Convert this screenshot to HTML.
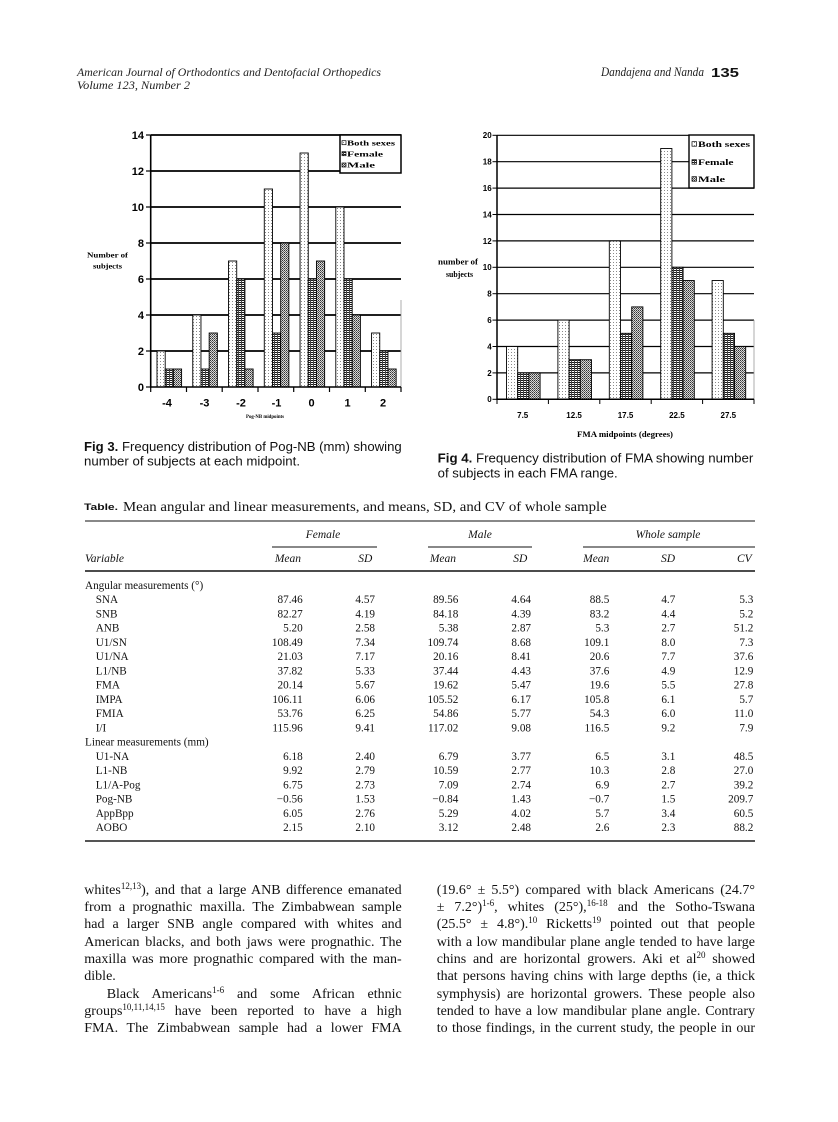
<!DOCTYPE html>
<html><head><meta charset="utf-8">
<style>
html,body{margin:0;padding:0;background:#fff;}
#page{position:relative;width:838px;height:1122px;overflow:hidden;background:#fff;}
svg{position:absolute;left:0;top:0;}
.ln{position:absolute;height:17.33px;line-height:17.33px;font-family:"Liberation Serif",serif;font-size:14px;color:#111;text-align:justify;text-align-last:justify;white-space:normal;overflow:visible;}
.nj{text-align:left;text-align-last:left;}
.s{font-size:9px;vertical-align:5px;line-height:0;}
</style></head>
<body><div id="page">
<svg width="838" height="1122" viewBox="0 0 838 1122" xmlns="http://www.w3.org/2000/svg">
<defs>
<pattern id="pb" width="3" height="3" patternUnits="userSpaceOnUse"><rect width="3" height="3" fill="#fff"/><rect x="1" y="1" width="1" height="1" fill="#8a8a8a"/></pattern>
<pattern id="pf" width="3" height="2" patternUnits="userSpaceOnUse"><rect width="3" height="2" fill="#fff"/><rect width="3" height="1" fill="#1a1a1a"/><rect x="1" width="1" height="2" fill="#444"/></pattern>
<pattern id="pm" width="2" height="2" patternUnits="userSpaceOnUse"><rect width="2" height="2" fill="#d8d8d8"/><rect width="1" height="1" fill="#333"/><rect x="1" y="1" width="1" height="1" fill="#666"/></pattern>
</defs>

<!-- Header -->
<g font-family="Liberation Serif, serif" font-style="italic" fill="#222">
<text x="77" y="76" font-size="12" textLength="304" lengthAdjust="spacingAndGlyphs">American Journal of Orthodontics and Dentofacial Orthopedics</text>
<text x="77" y="89" font-size="12" textLength="113" lengthAdjust="spacingAndGlyphs">Volume 123, Number 2</text>
<text x="601" y="76" font-size="13" textLength="103" lengthAdjust="spacingAndGlyphs">Dandajena and Nanda</text>
</g>
<text x="711" y="77" font-family="Liberation Sans, sans-serif" font-weight="bold" font-size="13" textLength="28" lengthAdjust="spacingAndGlyphs" fill="#111">135</text>

<!-- ===== Chart 1 ===== -->
<g stroke="#000" stroke-width="1.8">
<line x1="151" y1="135" x2="401" y2="135"/>
<line x1="151" y1="171" x2="401" y2="171"/>
<line x1="151" y1="207" x2="401" y2="207"/>
<line x1="151" y1="243" x2="401" y2="243"/>
<line x1="151" y1="279" x2="401" y2="279"/>
<line x1="151" y1="315" x2="401" y2="315"/>
<line x1="151" y1="351" x2="401" y2="351"/>
</g>
<g stroke="#000" stroke-width="1.2">
<line x1="146" y1="135" x2="151" y2="135"/><line x1="146" y1="171" x2="151" y2="171"/><line x1="146" y1="207" x2="151" y2="207"/><line x1="146" y1="243" x2="151" y2="243"/><line x1="146" y1="279" x2="151" y2="279"/><line x1="146" y1="315" x2="151" y2="315"/><line x1="146" y1="351" x2="151" y2="351"/><line x1="146" y1="387" x2="151" y2="387"/>
<line x1="150.7" y1="387" x2="150.7" y2="392"/><line x1="186.5" y1="387" x2="186.5" y2="392"/><line x1="222.2" y1="387" x2="222.2" y2="392"/><line x1="258" y1="387" x2="258" y2="392"/><line x1="293.7" y1="387" x2="293.7" y2="392"/><line x1="329.5" y1="387" x2="329.5" y2="392"/><line x1="365.3" y1="387" x2="365.3" y2="392"/><line x1="401" y1="387" x2="401" y2="392"/>
</g>
<line x1="401" y1="300" x2="401" y2="387" stroke="#999" stroke-width="0.8"/>
<!-- bars chart 1 -->
<g stroke="#000" stroke-width="0.9">
<rect x="157.0" y="351" width="8.2" height="36" fill="url(#pb)"/>
<rect x="165.2" y="369" width="8.2" height="18" fill="url(#pf)"/>
<rect x="173.4" y="369" width="8.2" height="18" fill="url(#pm)"/>
<rect x="192.76" y="315" width="8.2" height="72" fill="url(#pb)"/>
<rect x="200.96" y="369" width="8.2" height="18" fill="url(#pf)"/>
<rect x="209.16" y="333" width="8.2" height="54" fill="url(#pm)"/>
<rect x="228.52" y="261" width="8.2" height="126" fill="url(#pb)"/>
<rect x="236.72" y="279" width="8.2" height="108" fill="url(#pf)"/>
<rect x="244.92" y="369" width="8.2" height="18" fill="url(#pm)"/>
<rect x="264.28" y="189" width="8.2" height="198" fill="url(#pb)"/>
<rect x="272.48" y="333" width="8.2" height="54" fill="url(#pf)"/>
<rect x="280.68" y="243" width="8.2" height="144" fill="url(#pm)"/>
<rect x="300.04" y="153" width="8.2" height="234" fill="url(#pb)"/>
<rect x="308.24" y="279" width="8.2" height="108" fill="url(#pf)"/>
<rect x="316.44" y="261" width="8.2" height="126" fill="url(#pm)"/>
<rect x="335.8" y="207" width="8.2" height="180" fill="url(#pb)"/>
<rect x="344.0" y="279" width="8.2" height="108" fill="url(#pf)"/>
<rect x="352.2" y="315" width="8.2" height="72" fill="url(#pm)"/>
<rect x="371.56" y="333" width="8.2" height="54" fill="url(#pb)"/>
<rect x="379.76" y="351" width="8.2" height="36" fill="url(#pf)"/>
<rect x="387.96" y="369" width="8.2" height="18" fill="url(#pm)"/>
</g>
<g stroke="#000" stroke-width="1.6">
<line x1="150.7" y1="135" x2="150.7" y2="387.8"/>
<line x1="150" y1="387" x2="401" y2="387"/>
</g>
<!-- legend 1 -->
<rect x="340" y="135" width="61" height="38" fill="#fff" stroke="#000" stroke-width="1.5"/>
<rect x="342" y="140.7" width="4" height="4" fill="url(#pb)" stroke="#000" stroke-width="0.7"/>
<rect x="342" y="151.7" width="4" height="4" fill="url(#pf)" stroke="#000" stroke-width="0.7"/>
<rect x="342" y="163" width="4" height="4" fill="url(#pm)" stroke="#000" stroke-width="0.7"/>
<g font-family="Liberation Serif, serif" font-weight="bold" font-size="7.5" fill="#000">
<text x="347" y="145.3" textLength="48" lengthAdjust="spacingAndGlyphs">Both sexes</text>
<text x="347" y="156.3" textLength="36" lengthAdjust="spacingAndGlyphs">Female</text>
<text x="347" y="167.6" textLength="28" lengthAdjust="spacingAndGlyphs">Male</text>
</g>
<!-- tick labels 1 -->
<g font-family="Liberation Sans, sans-serif" font-weight="bold" font-size="11" fill="#000" text-anchor="end">
<text x="144" y="139">14</text><text x="144" y="175">12</text><text x="144" y="211">10</text><text x="144" y="247">8</text><text x="144" y="283">6</text><text x="144" y="319">4</text><text x="144" y="355">2</text><text x="144" y="391">0</text>
</g>
<g font-family="Liberation Sans, sans-serif" font-weight="bold" font-size="11" fill="#000" text-anchor="middle">
<text x="167" y="406.7">-4</text><text x="204.5" y="406.7">-3</text><text x="241" y="406.7">-2</text><text x="276.5" y="406.7">-1</text><text x="311.5" y="406.7">0</text><text x="347.5" y="406.7">1</text><text x="383" y="406.7">2</text>
</g>
<g font-family="Liberation Serif, serif" font-weight="bold" fill="#000">
<text x="87" y="257.5" font-size="7.5" textLength="41" lengthAdjust="spacingAndGlyphs">Number of</text>
<text x="93" y="268.5" font-size="7.5" textLength="29" lengthAdjust="spacingAndGlyphs">subjects</text>
<text x="246" y="418" font-size="5.5" textLength="38" lengthAdjust="spacingAndGlyphs">Pog-NB midpoints</text>
</g>

<!-- ===== Chart 2 ===== -->
<g stroke="#000" stroke-width="1.2">
<line x1="497" y1="135.3" x2="754" y2="135.3"/>
<line x1="497" y1="161.7" x2="754" y2="161.7"/>
<line x1="497" y1="188.1" x2="754" y2="188.1"/>
<line x1="497" y1="214.5" x2="754" y2="214.5"/>
<line x1="497" y1="240.9" x2="754" y2="240.9"/>
<line x1="497" y1="267.3" x2="754" y2="267.3"/>
<line x1="497" y1="293.7" x2="754" y2="293.7"/>
<line x1="497" y1="320.1" x2="754" y2="320.1"/>
<line x1="497" y1="346.5" x2="754" y2="346.5"/>
<line x1="497" y1="372.9" x2="754" y2="372.9"/>
</g>
<g stroke="#000" stroke-width="1">
<line x1="492.5" y1="135.3" x2="497" y2="135.3"/><line x1="492.5" y1="161.7" x2="497" y2="161.7"/><line x1="492.5" y1="188.1" x2="497" y2="188.1"/><line x1="492.5" y1="214.5" x2="497" y2="214.5"/><line x1="492.5" y1="240.9" x2="497" y2="240.9"/><line x1="492.5" y1="267.3" x2="497" y2="267.3"/><line x1="492.5" y1="293.7" x2="497" y2="293.7"/><line x1="492.5" y1="320.1" x2="497" y2="320.1"/><line x1="492.5" y1="346.5" x2="497" y2="346.5"/><line x1="492.5" y1="372.9" x2="497" y2="372.9"/><line x1="492.5" y1="399.3" x2="497" y2="399.3"/>
<line x1="497" y1="399.3" x2="497" y2="404"/><line x1="548.4" y1="399.3" x2="548.4" y2="404"/><line x1="599.8" y1="399.3" x2="599.8" y2="404"/><line x1="651.2" y1="399.3" x2="651.2" y2="404"/><line x1="702.6" y1="399.3" x2="702.6" y2="404"/><line x1="754" y1="399.3" x2="754" y2="404"/>
</g>
<line x1="754" y1="320" x2="754" y2="399" stroke="#999" stroke-width="0.8"/>
<g stroke="#000" stroke-width="0.9">
<rect x="506.5" y="346.5" width="11.2" height="52.8" fill="url(#pb)"/>
<rect x="517.7" y="372.9" width="11.2" height="26.4" fill="url(#pf)"/>
<rect x="528.9" y="372.9" width="11.2" height="26.4" fill="url(#pm)"/>
<rect x="557.9" y="320.1" width="11.2" height="79.2" fill="url(#pb)"/>
<rect x="569.1" y="359.7" width="11.2" height="39.6" fill="url(#pf)"/>
<rect x="580.3" y="359.7" width="11.2" height="39.6" fill="url(#pm)"/>
<rect x="609.3" y="240.9" width="11.2" height="158.4" fill="url(#pb)"/>
<rect x="620.5" y="333.3" width="11.2" height="66" fill="url(#pf)"/>
<rect x="631.7" y="306.9" width="11.2" height="92.4" fill="url(#pm)"/>
<rect x="660.7" y="148.5" width="11.2" height="250.8" fill="url(#pb)"/>
<rect x="671.9" y="267.3" width="11.2" height="132" fill="url(#pf)"/>
<rect x="683.1" y="280.5" width="11.2" height="118.8" fill="url(#pm)"/>
<rect x="712.1" y="280.5" width="11.2" height="118.8" fill="url(#pb)"/>
<rect x="723.3" y="333.3" width="11.2" height="66" fill="url(#pf)"/>
<rect x="734.5" y="346.5" width="11.2" height="52.8" fill="url(#pm)"/>
</g>
<g stroke="#000" stroke-width="1.5">
<line x1="497" y1="135" x2="497" y2="400"/>
<line x1="496.5" y1="399.3" x2="754" y2="399.3"/>
</g>
<!-- legend 2 -->
<rect x="689" y="135" width="65" height="53" fill="#fff" stroke="#000" stroke-width="1.4"/>
<rect x="692" y="141.7" width="4.5" height="4.5" fill="url(#pb)" stroke="#000" stroke-width="0.7"/>
<rect x="692" y="159.7" width="4.5" height="4.5" fill="url(#pf)" stroke="#000" stroke-width="0.7"/>
<rect x="692" y="176.7" width="4.5" height="4.5" fill="url(#pm)" stroke="#000" stroke-width="0.7"/>
<g font-family="Liberation Serif, serif" font-weight="bold" font-size="8" fill="#000">
<text x="698" y="146.9" textLength="52" lengthAdjust="spacingAndGlyphs">Both sexes</text>
<text x="698" y="164.9" textLength="35.5" lengthAdjust="spacingAndGlyphs">Female</text>
<text x="698" y="181.9" textLength="27" lengthAdjust="spacingAndGlyphs">Male</text>
</g>
<g font-family="Liberation Sans, sans-serif" font-weight="bold" font-size="8" fill="#000" text-anchor="end">
<text x="491.7" y="138.2">20</text><text x="491.7" y="164.6">18</text><text x="491.7" y="191">16</text><text x="491.7" y="217.4">14</text><text x="491.7" y="243.8">12</text><text x="491.7" y="270.2">10</text><text x="491.7" y="296.6">8</text><text x="491.7" y="323">6</text><text x="491.7" y="349.4">4</text><text x="491.7" y="375.8">2</text><text x="491.7" y="402.2">0</text>
</g>
<g font-family="Liberation Sans, sans-serif" font-weight="bold" font-size="8" fill="#000" text-anchor="middle">
<text x="522.7" y="418">7.5</text><text x="574.1" y="418">12.5</text><text x="625.5" y="418">17.5</text><text x="676.9" y="418">22.5</text><text x="728.3" y="418">27.5</text>
</g>
<g font-family="Liberation Serif, serif" font-weight="bold" fill="#000">
<text x="438" y="264.5" font-size="8" textLength="40" lengthAdjust="spacingAndGlyphs">number of</text>
<text x="446" y="277" font-size="8" textLength="27" lengthAdjust="spacingAndGlyphs">subjects</text>
<text x="577" y="437" font-size="8.5" textLength="96" lengthAdjust="spacingAndGlyphs">FMA midpoints (degrees)</text>
</g>

<!-- Captions -->
<g font-family="Liberation Sans, sans-serif" font-size="12.5" fill="#111">
<text x="84" y="451" textLength="317.7" lengthAdjust="spacingAndGlyphs"><tspan font-weight="bold">Fig 3.</tspan> Frequency distribution of Pog-NB (mm) showing</text>
<text x="84" y="465.5" textLength="216" lengthAdjust="spacingAndGlyphs">number of subjects at each midpoint.</text>
<text x="437.7" y="462.6" textLength="315.6" lengthAdjust="spacingAndGlyphs"><tspan font-weight="bold">Fig 4.</tspan> Frequency distribution of FMA showing number</text>
<text x="437.7" y="477.6" textLength="180" lengthAdjust="spacingAndGlyphs">of subjects in each FMA range.</text>
</g>
<text x="84" y="510" font-family="Liberation Sans, sans-serif" font-weight="bold" font-size="9.5" fill="#111" textLength="34" lengthAdjust="spacingAndGlyphs">Table.</text>
<text x="123" y="511" font-family="Liberation Serif, serif" font-size="14" fill="#111" textLength="483.7" lengthAdjust="spacingAndGlyphs">Mean angular and linear measurements, and means, SD, and CV of whole sample</text>

<!-- Table rules -->
<g stroke="#111">
<line x1="85" y1="521" x2="755" y2="521" stroke-width="1.1"/>
<line x1="272" y1="547" x2="377" y2="547" stroke-width="1"/>
<line x1="428" y1="547" x2="532" y2="547" stroke-width="1"/>
<line x1="583" y1="547" x2="755" y2="547" stroke-width="1"/>
<line x1="85" y1="571" x2="755" y2="571" stroke-width="1.4"/>
<line x1="85" y1="841" x2="755" y2="841" stroke-width="2" stroke="#555"/>
</g>
<g font-family="Liberation Serif, serif" font-style="italic" font-size="11.5" fill="#111">
<text x="323" y="538" text-anchor="middle">Female</text>
<text x="480" y="538" text-anchor="middle">Male</text>
<text x="668" y="538" text-anchor="middle">Whole sample</text>
<text x="85" y="562">Variable</text>
<g text-anchor="end">
<text x="301" y="562">Mean</text><text x="372.3" y="562">SD</text>
<text x="456" y="562">Mean</text><text x="527.3" y="562">SD</text>
<text x="609.3" y="562">Mean</text><text x="675" y="562">SD</text><text x="751.7" y="562">CV</text>
</g>
</g>
<g font-family="Liberation Serif, serif" font-size="11.2" fill="#111">
<text x="85" y="588.8">Angular measurements (°)</text>
<text x="85" y="745.55">Linear measurements (mm)</text>
<g>
<text x="95.7" y="603.05">SNA</text>
<text x="95.7" y="617.3">SNB</text>
<text x="95.7" y="631.55">ANB</text>
<text x="95.7" y="645.8">U1/SN</text>
<text x="95.7" y="660.05">U1/NA</text>
<text x="95.7" y="674.3">L1/NB</text>
<text x="95.7" y="688.55">FMA</text>
<text x="95.7" y="702.8">IMPA</text>
<text x="95.7" y="717.05">FMIA</text>
<text x="95.7" y="731.3">I/I</text>
<text x="95.7" y="759.8">U1-NA</text>
<text x="95.7" y="774.05">L1-NB</text>
<text x="95.7" y="788.3">L1/A-Pog</text>
<text x="95.7" y="802.55">Pog-NB</text>
<text x="95.7" y="816.8">AppBpp</text>
<text x="95.7" y="831.05">AOBO</text>
</g>
<g text-anchor="end">
<text x="302.7" y="603.05">87.46</text><text x="375" y="603.05">4.57</text><text x="458.3" y="603.05">89.56</text><text x="531" y="603.05">4.64</text><text x="609.3" y="603.05">88.5</text><text x="675.3" y="603.05">4.7</text><text x="753.3" y="603.05">5.3</text>
<text x="302.7" y="617.3">82.27</text><text x="375" y="617.3">4.19</text><text x="458.3" y="617.3">84.18</text><text x="531" y="617.3">4.39</text><text x="609.3" y="617.3">83.2</text><text x="675.3" y="617.3">4.4</text><text x="753.3" y="617.3">5.2</text>
<text x="302.7" y="631.55">5.20</text><text x="375" y="631.55">2.58</text><text x="458.3" y="631.55">5.38</text><text x="531" y="631.55">2.87</text><text x="609.3" y="631.55">5.3</text><text x="675.3" y="631.55">2.7</text><text x="753.3" y="631.55">51.2</text>
<text x="302.7" y="645.8">108.49</text><text x="375" y="645.8">7.34</text><text x="458.3" y="645.8">109.74</text><text x="531" y="645.8">8.68</text><text x="609.3" y="645.8">109.1</text><text x="675.3" y="645.8">8.0</text><text x="753.3" y="645.8">7.3</text>
<text x="302.7" y="660.05">21.03</text><text x="375" y="660.05">7.17</text><text x="458.3" y="660.05">20.16</text><text x="531" y="660.05">8.41</text><text x="609.3" y="660.05">20.6</text><text x="675.3" y="660.05">7.7</text><text x="753.3" y="660.05">37.6</text>
<text x="302.7" y="674.3">37.82</text><text x="375" y="674.3">5.33</text><text x="458.3" y="674.3">37.44</text><text x="531" y="674.3">4.43</text><text x="609.3" y="674.3">37.6</text><text x="675.3" y="674.3">4.9</text><text x="753.3" y="674.3">12.9</text>
<text x="302.7" y="688.55">20.14</text><text x="375" y="688.55">5.67</text><text x="458.3" y="688.55">19.62</text><text x="531" y="688.55">5.47</text><text x="609.3" y="688.55">19.6</text><text x="675.3" y="688.55">5.5</text><text x="753.3" y="688.55">27.8</text>
<text x="302.7" y="702.8">106.11</text><text x="375" y="702.8">6.06</text><text x="458.3" y="702.8">105.52</text><text x="531" y="702.8">6.17</text><text x="609.3" y="702.8">105.8</text><text x="675.3" y="702.8">6.1</text><text x="753.3" y="702.8">5.7</text>
<text x="302.7" y="717.05">53.76</text><text x="375" y="717.05">6.25</text><text x="458.3" y="717.05">54.86</text><text x="531" y="717.05">5.77</text><text x="609.3" y="717.05">54.3</text><text x="675.3" y="717.05">6.0</text><text x="753.3" y="717.05">11.0</text>
<text x="302.7" y="731.3">115.96</text><text x="375" y="731.3">9.41</text><text x="458.3" y="731.3">117.02</text><text x="531" y="731.3">9.08</text><text x="609.3" y="731.3">116.5</text><text x="675.3" y="731.3">9.2</text><text x="753.3" y="731.3">7.9</text>
<text x="302.7" y="759.8">6.18</text><text x="375" y="759.8">2.40</text><text x="458.3" y="759.8">6.79</text><text x="531" y="759.8">3.77</text><text x="609.3" y="759.8">6.5</text><text x="675.3" y="759.8">3.1</text><text x="753.3" y="759.8">48.5</text>
<text x="302.7" y="774.05">9.92</text><text x="375" y="774.05">2.79</text><text x="458.3" y="774.05">10.59</text><text x="531" y="774.05">2.77</text><text x="609.3" y="774.05">10.3</text><text x="675.3" y="774.05">2.8</text><text x="753.3" y="774.05">27.0</text>
<text x="302.7" y="788.3">6.75</text><text x="375" y="788.3">2.73</text><text x="458.3" y="788.3">7.09</text><text x="531" y="788.3">2.74</text><text x="609.3" y="788.3">6.9</text><text x="675.3" y="788.3">2.7</text><text x="753.3" y="788.3">39.2</text>
<text x="302.7" y="802.55">−0.56</text><text x="375" y="802.55">1.53</text><text x="458.3" y="802.55">−0.84</text><text x="531" y="802.55">1.43</text><text x="609.3" y="802.55">−0.7</text><text x="675.3" y="802.55">1.5</text><text x="753.3" y="802.55">209.7</text>
<text x="302.7" y="816.8">6.05</text><text x="375" y="816.8">2.76</text><text x="458.3" y="816.8">5.29</text><text x="531" y="816.8">4.02</text><text x="609.3" y="816.8">5.7</text><text x="675.3" y="816.8">3.4</text><text x="753.3" y="816.8">60.5</text>
<text x="302.7" y="831.05">2.15</text><text x="375" y="831.05">2.10</text><text x="458.3" y="831.05">3.12</text><text x="531" y="831.05">2.48</text><text x="609.3" y="831.05">2.6</text><text x="675.3" y="831.05">2.3</text><text x="753.3" y="831.05">88.2</text>
</g>
</g>
</svg>

<!-- Body text left column -->
<div class="ln" style="left:84.3px;top:881.6px;width:317.4px;">whites<span class="s">12,13</span>), and that a large ANB difference emanated</div>
<div class="ln" style="left:84.3px;top:898.9px;width:317.4px;">from a prognathic maxilla. The Zimbabwean sample</div>
<div class="ln" style="left:84.3px;top:916.3px;width:317.4px;">had a larger SNB angle compared with whites and</div>
<div class="ln" style="left:84.3px;top:933.6px;width:317.4px;">American blacks, and both jaws were prognathic. The</div>
<div class="ln" style="left:84.3px;top:950.9px;width:317.4px;">maxilla was more prognathic compared with the man-</div>
<div class="ln nj" style="left:84.3px;top:968.3px;width:317.4px;">dible.</div>
<div class="ln" style="left:106.7px;top:985.6px;width:295px;">Black Americans<span class="s">1-6</span> and some African ethnic</div>
<div class="ln" style="left:84.3px;top:1002.9px;width:317.4px;">groups<span class="s">10,11,14,15</span> have been reported to have a high</div>
<div class="ln" style="left:84.3px;top:1020.3px;width:317.4px;">FMA. The Zimbabwean sample had a lower FMA</div>

<!-- Body text right column -->
<div class="ln" style="left:436.7px;top:881.6px;width:318.3px;">(19.6° ± 5.5°) compared with black Americans (24.7°</div>
<div class="ln" style="left:436.7px;top:898.9px;width:318.3px;">± 7.2°)<span class="s">1-6</span>, whites (25°),<span class="s">16-18</span> and the Sotho-Tswana</div>
<div class="ln" style="left:436.7px;top:916.3px;width:318.3px;">(25.5° ± 4.8°).<span class="s">10</span> Ricketts<span class="s">19</span> pointed out that people</div>
<div class="ln" style="left:436.7px;top:933.6px;width:318.3px;">with a low mandibular plane angle tended to have large</div>
<div class="ln" style="left:436.7px;top:950.9px;width:318.3px;">chins and are horizontal growers. Aki et al<span class="s">20</span> showed</div>
<div class="ln" style="left:436.7px;top:968.3px;width:318.3px;">that persons having chins with large depths (ie, a thick</div>
<div class="ln" style="left:436.7px;top:985.6px;width:318.3px;">symphysis) are horizontal growers. These people also</div>
<div class="ln" style="left:436.7px;top:1002.9px;width:318.3px;">tended to have a low mandibular plane angle. Contrary</div>
<div class="ln" style="left:436.7px;top:1020.3px;width:318.3px;">to those findings, in the current study, the people in our</div>
</div>
</body></html>
